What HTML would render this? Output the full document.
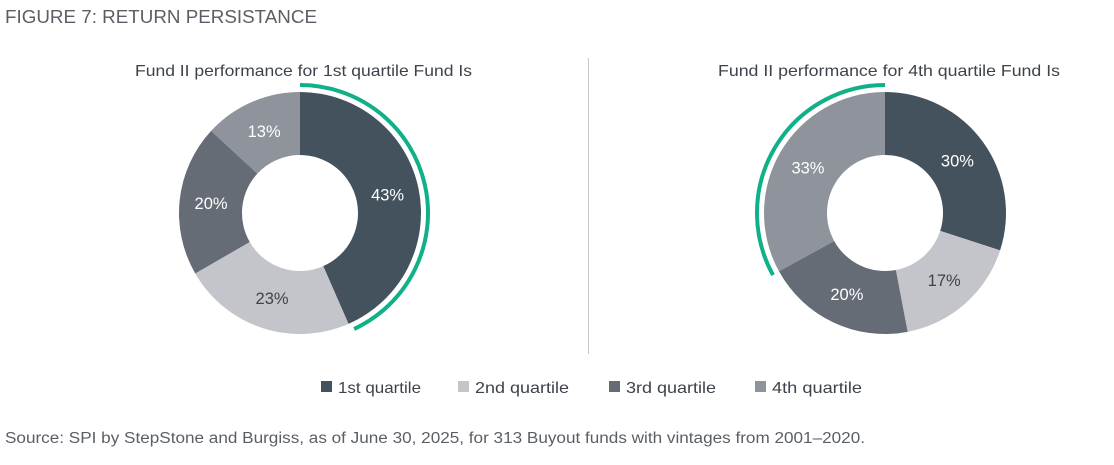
<!DOCTYPE html>
<html><head><meta charset="utf-8"><style>
body{margin:0;background:#fff;width:1114px;height:460px;overflow:hidden;font-family:"Liberation Sans",sans-serif}
</style></head><body>
<svg id="s" width="1114" height="460" xmlns="http://www.w3.org/2000/svg" font-family="Liberation Sans, sans-serif">
<text x="5" y="23" font-size="18" fill="#5a5f66" textLength="312" lengthAdjust="spacingAndGlyphs">FIGURE 7: RETURN PERSISTANCE</text>
<text x="135" y="76" font-size="16" fill="#3d434b" textLength="337" lengthAdjust="spacingAndGlyphs">Fund II performance for 1st quartile Fund Is</text>
<text x="718" y="76" font-size="16" fill="#3d434b" textLength="342" lengthAdjust="spacingAndGlyphs">Fund II performance for 4th quartile Fund Is</text>
<line x1="588.5" y1="58" x2="588.5" y2="354" stroke="#c8c9cc" stroke-width="1"/>
<g id="g"></g>
<rect x="321" y="381" width="11" height="11" fill="#44525e"/><text x="338" y="393" font-size="16" fill="#3d434b" textLength="83" lengthAdjust="spacingAndGlyphs">1st quartile</text>
<rect x="458" y="381" width="11" height="11" fill="#c4c5ca"/><text x="475" y="393" font-size="16" fill="#3d434b" textLength="94" lengthAdjust="spacingAndGlyphs">2nd quartile</text>
<rect x="609" y="381" width="11" height="11" fill="#666c76"/><text x="626" y="393" font-size="16" fill="#3d434b" textLength="90" lengthAdjust="spacingAndGlyphs">3rd quartile</text>
<rect x="755" y="381" width="11" height="11" fill="#8f939b"/><text x="772" y="393" font-size="16" fill="#3d434b" textLength="90" lengthAdjust="spacingAndGlyphs">4th quartile</text>
<text x="5" y="443" font-size="15.5" fill="#5a5f66" textLength="860" lengthAdjust="spacingAndGlyphs">Source: SPI by StepStone and Burgiss, as of June 30, 2025, for 313 Buyout funds with vintages from 2001–2020.</text>
</svg>
<script>
var cols=["#44525e","#c4c5ca","#666c76","#8f939b"];
var g=document.getElementById("g"),h="";
function pt(cx,cy,r,a){var t=a*Math.PI/180;return [cx+r*Math.sin(t),cy-r*Math.cos(t)];}
function donut(cx,cy,vals,labs,tc,arc){
 var a=0,R=121,r=58,tot=vals.reduce(function(s,v){return s+v;},0);
 vals.forEach(function(v,i){var b=a+v/tot*360;var p1=pt(cx,cy,R,a),p2=pt(cx,cy,R,b),p3=pt(cx,cy,r,b),p4=pt(cx,cy,r,a);var L=(b-a)>180?1:0;
 h+='<path d="M'+p1+' A'+R+' '+R+' 0 '+L+' 1 '+p2+' L'+p3+' A'+r+' '+r+' 0 '+L+' 0 '+p4+'Z" fill="'+cols[i]+'"/>';
 var m=pt(cx,cy,(R+r)/2,(a+b)/2);h+='<text x="'+m[0]+'" y="'+(m[1]+6)+'" font-size="16.5" text-anchor="middle" fill="'+tc[i]+'">'+labs[i]+'</text>';a=b;});
 var q1=pt(cx,cy,128,arc[0]),q2=pt(cx,cy,128,arc[1]);var L=(arc[1]-arc[0])>180?1:0;
 h+='<path d="M'+q1+' A128 128 0 '+L+' 1 '+q2+'" fill="none" stroke="#10b088" stroke-width="4"/>';
}
donut(300,213,[43,23,20,13],["43%","23%","20%","13%"],["#fff","#3d434b","#fff","#fff"],[0,155]);
donut(885,213,[30,17,20,33],["30%","17%","20%","33%"],["#fff","#3d434b","#fff","#fff"],[241,360]);
g.innerHTML=h;
</script>
</body></html>
